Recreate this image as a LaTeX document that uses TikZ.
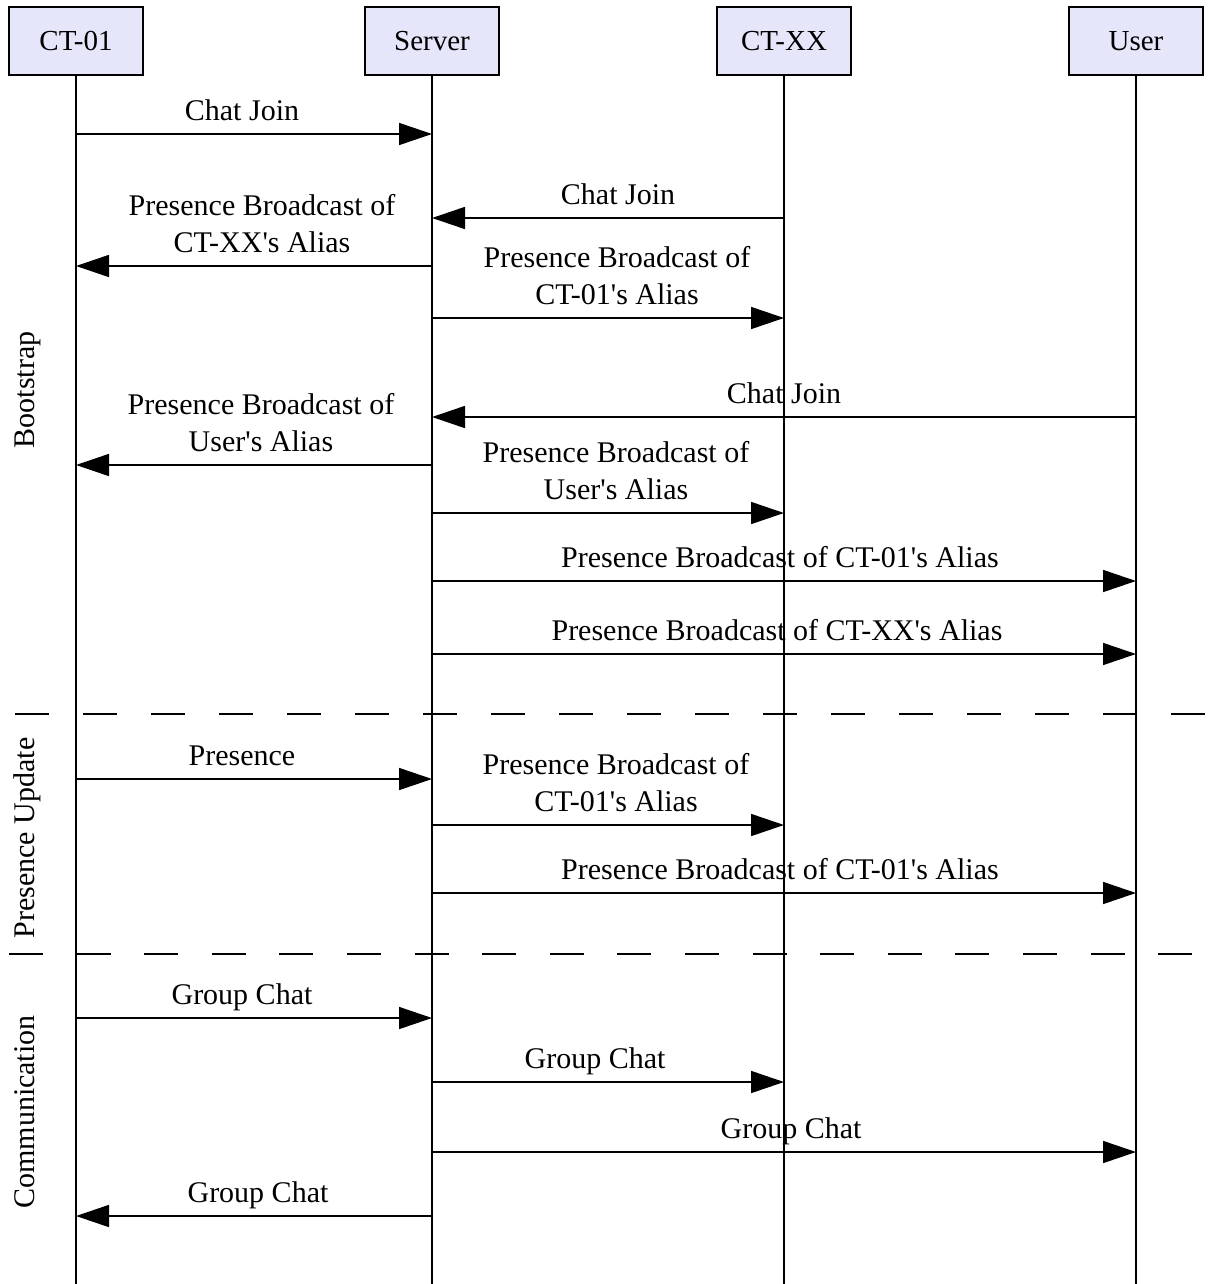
\documentclass[tikz,border=0pt]{standalone}
\usepackage{fontspec}
\setmainfont{Liberation Serif}
\usetikzlibrary{arrows.meta,positioning}
\definecolor{actorFill}{RGB}{230,230,250}

\begin{document}
\begin{tikzpicture}[x=1pt,y=-1pt,
    actor/.style={draw,line width=1.6pt,fill=actorFill,minimum width=134pt,minimum height=68pt,inner sep=0pt,font=\fontsize{29}{35}\selectfont},
    life/.style={line width=1.6pt},
    msg/.style={line width=1.6pt,-{Triangle[length=33pt,width=22pt]}},
    lbl/.style={inner sep=0pt,text depth=0pt,align=center,font=\fontsize{30}{37}\selectfont},
    phase/.style={rotate=90,anchor=base,inner sep=0pt,font=\fontsize{30}{37}\selectfont},
    sep/.style={line width=1.6pt,dash pattern=on 34pt off 34pt}]
  \useasboundingbox (0,0) rectangle (1208,1284);

  % actors and lifelines
  \node[actor] (ct01) at (76,41) {CT-01};
  \node[actor] (server) at (432,41) {Server};
  \node[actor] (ctxx) at (784,41) {CT-XX};
  \node[actor] (user) at (1136,41) {User};
  \foreach \a in {ct01,server,ctxx,user}
    \draw[life] (\a.south) -- (\a.south |- 0,1284);

  % phase labels
  \node[phase] (boot) at (34,390) {Bootstrap};
  \node[phase] (update) at (34,838) {Presence Update};
  \node[phase] (comm) at (34,1112) {Communication};

  % (1) Bootstrap
  \draw[msg] (ct01.south |- 0,134) -- node[lbl,above=13pt,xshift=-12pt] (m1) {Chat Join} (server.south |- 0,134);
  \draw[msg] (ctxx.south |- 0,218) -- node[lbl,above=13pt,xshift=10pt] (m2) {Chat Join} (server.south |- 0,218);
  \draw[msg] (server.south |- 0,266) -- node[lbl,above=13pt,xshift=8pt] (m3) {Presence Broadcast of\\CT-XX\textquotesingle s Alias} (ct01.south |- 0,266);
  \draw[msg] (server.south |- 0,318) -- node[lbl,above=13pt,xshift=9pt] (m4) {Presence Broadcast of\\CT-01\textquotesingle s Alias} (ctxx.south |- 0,318);
  \draw[msg] (user.south |- 0,417) -- node[lbl,above=13pt] (m5) {Chat Join} (server.south |- 0,417);
  \draw[msg] (server.south |- 0,465) -- node[lbl,above=13pt,xshift=7pt] (m6) {Presence Broadcast of\\User\textquotesingle s Alias} (ct01.south |- 0,465);
  \draw[msg] (server.south |- 0,513) -- node[lbl,above=13pt,xshift=8pt] (m7) {Presence Broadcast of\\User\textquotesingle s Alias} (ctxx.south |- 0,513);
  \draw[msg] (server.south |- 0,581) -- node[lbl,above=13pt,xshift=-4pt] (m8) {Presence Broadcast of CT-01\textquotesingle s Alias} (user.south |- 0,581);
  \draw[msg] (server.south |- 0,654) -- node[lbl,above=13pt,xshift=-7pt] (m9) {Presence Broadcast of CT-XX\textquotesingle s Alias} (user.south |- 0,654);

  \coordinate (sepA) at (15,714);
  \draw[sep] (sepA) -- (1208,714);

  % (2) Presence update
  \draw[msg] (ct01.south |- 0,779) -- node[lbl,above=13pt,xshift=-12pt] (m10) {Presence} (server.south |- 0,779);
  \draw[msg] (server.south |- 0,825) -- node[lbl,above=13pt,xshift=8pt] (m11) {Presence Broadcast of\\CT-01\textquotesingle s Alias} (ctxx.south |- 0,825);
  \draw[msg] (server.south |- 0,893) -- node[lbl,above=13pt,xshift=-4pt] (m12) {Presence Broadcast of CT-01\textquotesingle s Alias} (user.south |- 0,893);

  \coordinate (sepB) at (9,954);
  \draw[sep,dash pattern=on 34pt off 33.6pt] (sepB) -- (1208,954);

  % (3) Communication
  \draw[msg] (ct01.south |- 0,1018) -- node[lbl,above=13pt,xshift=-12pt] (m13) {Group Chat} (server.south |- 0,1018);
  \draw[msg] (server.south |- 0,1082) -- node[lbl,above=13pt,xshift=-13pt] (m14) {Group Chat} (ctxx.south |- 0,1082);
  \draw[msg] (server.south |- 0,1152) -- node[lbl,above=13pt,xshift=7pt] (m15) {Group Chat} (user.south |- 0,1152);
  \draw[msg] (server.south |- 0,1216) -- node[lbl,above=13pt,xshift=4pt] (m16) {Group Chat} (ct01.south |- 0,1216);
\end{tikzpicture}
\end{document}
